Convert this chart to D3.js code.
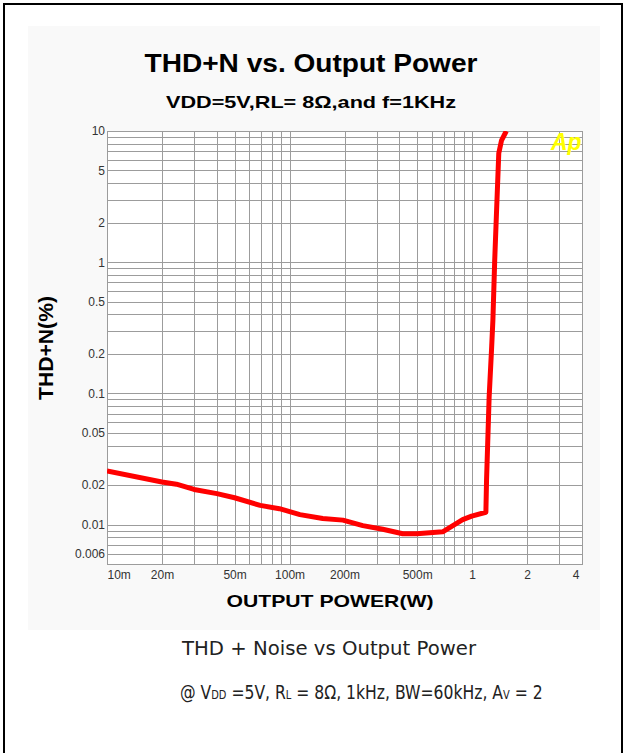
<!DOCTYPE html>
<html>
<head>
<meta charset="utf-8">
<script src="https://cdn.jsdelivr.net/npm/d3@7"></script>
<style>
  body { margin: 0; background: #fff; }
  svg { display: block; }
  .tick text { font-family: "Liberation Sans", Arial, sans-serif; }
</style>
</head>
<body>
<div id="chart"></div>
<script>
// output power in W, THD+N in %
var powerW = [0.010, 0.020, 0.024, 0.030, 0.040, 0.050, 0.069, 0.088, 0.114, 0.152,
              0.196, 0.252, 0.324, 0.417, 0.497, 0.690, 0.888, 0.995, 1.19, 1.20,
              1.24, 1.28, 1.30, 1.33, 1.36, 1.40, 1.45, 1.54];
var thdPct = [0.0256, 0.0211, 0.0203, 0.0185, 0.0172, 0.0160, 0.0140, 0.0132, 0.0119, 0.0111,
              0.0108, 0.0098, 0.0092, 0.0085, 0.0085, 0.0088, 0.0109, 0.0116, 0.0124, 0.0218,
              0.094, 0.226, 0.361, 1.03, 2.36, 6.76, 8.49, 10];

var xTickVals = [0.01, 0.02, 0.05, 0.1, 0.2, 0.5, 1, 2, 4];
var xTickLabels = ["10m", "20m", "50m", "100m", "200m", "500m", "1", "2", "4"];
var yTickVals = [10, 5, 2, 1, 0.5, 0.2, 0.1, 0.05, 0.02, 0.01, 0.006];
var yTickLabels = ["10", "5", "2", "1", "0.5", "0.2", "0.1", "0.05", "0.02", "0.01", "0.006"];

(function() {
var width = 627, height = 753;
var pL = 107, pR = 582, pT = 131, pB = 564;

var svg = d3.select("#chart").append("svg")
    .attr("width", width)
    .attr("height", height);

// outer frame and light panel
svg.append("rect").attr("x", 4).attr("y", 4).attr("width", 618).attr("height", 760)
    .attr("fill", "#fff").attr("stroke", "#000").attr("stroke-width", 2);
svg.append("rect").attr("x", 28).attr("y", 26).attr("width", 572).attr("height", 604)
    .attr("fill", "#f9f9f9");
svg.append("rect").attr("x", pL).attr("y", pT).attr("width", pR - pL).attr("height", pB - pT)
    .attr("fill", "#fff");

var x = d3.scaleLog().domain([0.01, 4]).range([pL, pR]);
var y = d3.scaleLog().domain([0.005, 10]).range([pB, pT]);

// grid lines on every 1..9 step of each decade
var xGrid = [], yGrid = [];
for (var e = -2; e <= 0; e++) {
    for (var k = 1; k <= 9; k++) {
        var v = k * Math.pow(10, e);
        if (v >= 0.01 && v <= 4.0001) xGrid.push(v);
    }
}
for (var e = -3; e <= 1; e++) {
    for (var k = 1; k <= 9; k++) {
        var v = k * Math.pow(10, e);
        if (v >= 0.005 && v <= 10.0001) yGrid.push(v);
    }
}

var gridColor = "#9c9c9c";
svg.append("g")
    .attr("transform", "translate(0," + pB + ")")
    .call(d3.axisBottom(x).tickValues(xGrid).tickSize(-(pB - pT)).tickFormat(""))
    .call(function(g) {
        g.select(".domain").remove();
        g.selectAll("line").attr("stroke", gridColor).attr("shape-rendering", "crispEdges");
    });
svg.append("g")
    .attr("transform", "translate(" + pL + ",0)")
    .call(d3.axisLeft(y).tickValues(yGrid).tickSize(-(pR - pL)).tickFormat(""))
    .call(function(g) {
        g.select(".domain").remove();
        g.selectAll("line").attr("stroke", gridColor).attr("shape-rendering", "crispEdges");
    });
svg.append("rect").attr("x", pL).attr("y", pT).attr("width", pR - pL).attr("height", pB - pT)
    .attr("fill", "none").attr("stroke", gridColor).attr("shape-rendering", "crispEdges");

// tick labels
svg.append("g")
    .attr("transform", "translate(" + (pL - 1) + ",0)")
    .call(d3.axisLeft(y).tickValues(yTickVals).tickSize(0).tickPadding(1)
        .tickFormat(function(d, i) { return yTickLabels[i]; }))
    .call(function(g) {
        g.select(".domain").remove();
        g.selectAll("text").attr("font-size", 12).attr("fill", "#333");
    });
svg.append("g")
    .attr("transform", "translate(0," + (pB + 4) + ")")
    .call(d3.axisBottom(x).tickValues(xTickVals).tickSize(0).tickPadding(2)
        .tickFormat(function(d, i) { return xTickLabels[i]; }))
    .call(function(g) {
        g.select(".domain").remove();
        g.selectAll("text").attr("font-size", 12).attr("fill", "#333");
        g.selectAll("text").filter(function(d, i) { return i === 0; }).attr("text-anchor", "start");
        g.selectAll("text").filter(function(d, i) { return i === xTickVals.length - 1; })
            .attr("text-anchor", "end").attr("dx", -3);
    });

// curve
svg.append("clipPath").attr("id", "plotclip")
    .append("rect").attr("x", pL).attr("y", pT).attr("width", pR - pL).attr("height", pB - pT);

var line = d3.line()
    .x(function(d, i) { return x(powerW[i]); })
    .y(function(d, i) { return y(thdPct[i]); });

svg.append("path")
    .datum(powerW)
    .attr("clip-path", "url(#plotclip)")
    .attr("d", line)
    .attr("fill", "none")
    .attr("stroke", "#ff0000")
    .attr("stroke-width", 5)
    .attr("stroke-linejoin", "round");

svg.append("text")
    .attr("x", 551).attr("y", 150)
    .attr("font-family", "Liberation Sans, Arial, sans-serif")
    .attr("font-size", 23).attr("font-weight", "bold").attr("font-style", "italic")
    .attr("fill", "#ffff00")
    .text("Ap");

// titles
var bold = "Liberation Sans, Arial, sans-serif";
svg.append("text")
    .attr("x", 311).attr("y", 72).attr("text-anchor", "middle")
    .attr("font-family", bold).attr("font-weight", "bold").attr("font-size", 25)
    .attr("textLength", 333).attr("lengthAdjust", "spacingAndGlyphs")
    .text("THD+N vs. Output Power");
svg.append("text")
    .attr("x", 311).attr("y", 108).attr("text-anchor", "middle")
    .attr("font-family", bold).attr("font-weight", "bold").attr("font-size", 17)
    .attr("textLength", 290).attr("lengthAdjust", "spacingAndGlyphs")
    .text("VDD=5V,RL= 8Ω,and f=1KHz");
svg.append("text")
    .attr("transform", "translate(53,348) rotate(-90)").attr("text-anchor", "middle")
    .attr("font-family", bold).attr("font-weight", "bold").attr("font-size", 20)
    .attr("textLength", 104).attr("lengthAdjust", "spacingAndGlyphs")
    .text("THD+N(%)");
svg.append("text")
    .attr("x", 330).attr("y", 607).attr("text-anchor", "middle")
    .attr("font-family", bold).attr("font-weight", "bold").attr("font-size", 17)
    .attr("textLength", 207).attr("lengthAdjust", "spacingAndGlyphs")
    .text("OUTPUT POWER(W)");

// caption below the chart
var capFont = "DejaVu Sans, sans-serif";
svg.append("text")
    .attr("x", 329).attr("y", 655).attr("text-anchor", "middle")
    .attr("font-family", capFont).attr("font-size", 19).attr("fill", "#222")
    .attr("textLength", 294).attr("lengthAdjust", "spacingAndGlyphs")
    .text("THD + Noise vs Output Power");

var cap2 = svg.append("text")
    .attr("x", 0).attr("y", 0)
    .attr("font-family", capFont).attr("font-size", 19).attr("fill", "#222");
var parts = [["@ V", 19], ["DD", 12], [" =5V, R", 19], ["L", 12], [" = 8Ω, 1kHz, BW=60kHz, A", 19], ["V", 12], [" = 2", 19]];
parts.forEach(function(p) {
    cap2.append("tspan").attr("font-size", p[1]).text(p[0]);
});
// squeeze the second caption line to the reference width
var w2 = cap2.node().getComputedTextLength();
cap2.attr("transform", "translate(180,699) scale(" + (363 / w2) + ",1)");
})();
</script>
</body>
</html>
